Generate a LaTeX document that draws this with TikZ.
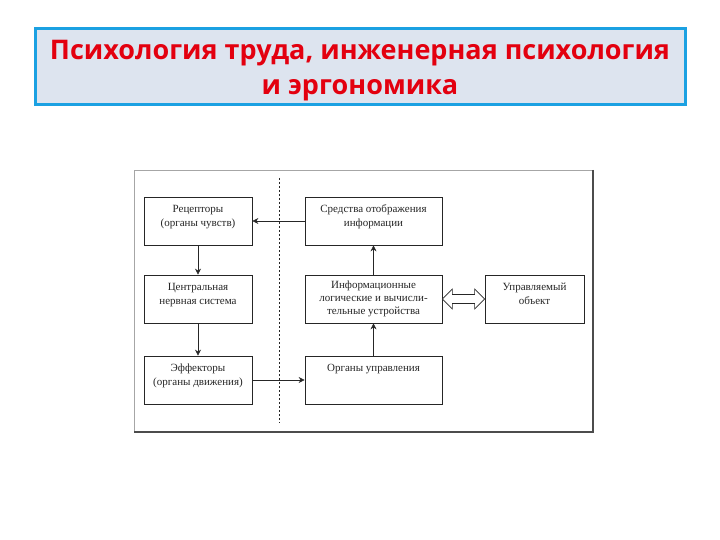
\documentclass[tikz,border=0pt]{standalone}
\usepackage{fontspec}
\setmainfont{Liberation Serif}
\newfontfamily\titlefont{Open Sans}
\usetikzlibrary{calc,arrows.meta}
\definecolor{titleblue}{HTML}{1BA1E2}
\definecolor{titlefill}{HTML}{DDE4EF}
\definecolor{titlered}{HTML}{E3000F}
\tikzset{
  box/.style={draw=black!85, line width=0.7pt, minimum width=108pt, minimum height=48pt, inner sep=0pt},
  wbox/.style={box, minimum width=137pt},
  ubox/.style={box, minimum width=99pt},
  txt/.style={font=\fontsize{11}{14}\selectfont, align=center, text=black!85, inner sep=0pt, anchor=north},
  arr/.style={draw=black!85, line width=0.6pt, -{Stealth[length=6pt,width=6pt]}},
  dbl/.style={draw=black!85, line width=0.6pt, fill=white},
  frame/.style={draw=black!35, line width=0.6pt},
  shadowline/.style={draw=black!70, line width=1.6pt},
  divider/.style={draw=black!85, line width=0.6pt, dash pattern=on 2pt off 2pt}
}
\begin{document}
\begin{tikzpicture}[x=1pt,y=-1pt]
\useasboundingbox (0,0) rectangle (720,540);
\fill[white] (0,0) rectangle (720,540);
% title
\node[draw=titleblue, line width=3.5pt, fill=titlefill, minimum width=650pt, minimum height=76pt, inner sep=0pt] (titlebox) at (360.5,66.5) {};
\node[font=\titlefont\bfseries\fontsize{27}{35}\selectfont, text=titlered, align=center, inner sep=0pt] (title) at (360,70.5) {Психология труда, инженерная психология\\и эргономика};
% frame
\coordinate (fa) at (134,170);
\coordinate (fb) at (593,432);
\draw[frame] (fa) rectangle (fb);
\draw[shadowline] (fa -| fb) -- (fb) -- (fb -| fa);
\coordinate (da) at (279,178);
\coordinate (db) at (279,423);
\draw[divider] (da) -- (db);
% boxes
\node[box] (rec) at (198,221) {};
\node[box] (cns) at (198,299) {};
\node[box] (eff) at (198,380) {};
\node[wbox] (sred) at (373.5,221) {};
\node[wbox] (info) at (373.5,299) {};
\node[wbox] (org) at (373.5,380) {};
\node[ubox] (upr) at (534.5,299) {};
% texts
\node[txt] at ([yshift=-8pt]rec.north) {Рецепторы\\(органы чувств)};
\node[txt] at ([yshift=-8pt]cns.north) {Центральная\\нервная система};
\node[txt] at ([yshift=-8pt]eff.north) {Эффекторы\\(органы движения)};
\node[txt] at ([yshift=-8pt]sred.north) {Средства отображения\\информации};
\node[txt, font=\fontsize{11}{13}\selectfont] at ([yshift=-6pt]info.north) {Информационные\\логические и вычисли-\\тельные устройства};
\node[txt] at ([yshift=-8pt]org.north) {Органы управления};
\node[txt] at ([yshift=-8pt]upr.north) {Управляемый\\объект};
% connectors
\draw[arr] (sred.west) -- (rec.east);
\draw[arr] (rec.south) -- (cns.north);
\draw[arr] (cns.south) -- (eff.north);
\draw[arr] (eff.east) -- (org.west);
\draw[arr] (org.north) -- (info.south);
\draw[arr] (info.north) -- (sred.south);
\draw[dbl] (info.east) -- ++(10,-10) -- ++(0,5.5) -- ($(upr.west)+(-10,-4.5)$) -- ++(0,-5.5) -- (upr.west) -- ++(-10,10) -- ++(0,-5.5) -- ($(info.east)+(10,4.5)$) -- ++(0,5.5) -- cycle;
\end{tikzpicture}
\end{document}
